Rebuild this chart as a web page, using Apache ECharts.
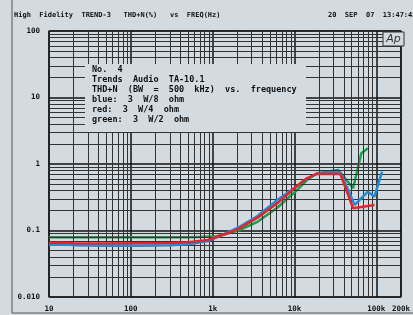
<!DOCTYPE html>
<html>
<head>
<meta charset="utf-8">
<script src="https://cdn.jsdelivr.net/npm/echarts@6/dist/echarts.min.js"></script>
<style>
html,body{margin:0;padding:0;background:#d3dbe1;}
#chart{width:413px;height:315px;}
</style>
</head>
<body>
<div id="chart"></div>
<script>
// THD+N (%) vs frequency (Hz)
var blueData = [[10,0.061],[18,0.061],[20,0.060],[50,0.059],[126,0.059],[300,0.060],[505,0.062],[880,0.0695],
	[1535,0.094],[2030,0.110],[3535,0.165],[6160,0.288],[10750,0.467],[14200,0.61],[18750,0.708],[24800,0.74],
	[34300,0.75],[37000,0.72],[54400,0.242],[78900,0.383],[94800,0.322],[117500,0.766]];
var redData = [[10,0.0656],[18,0.0656],[20,0.064],[50,0.0635],[126,0.0643],[300,0.065],[505,0.0665],[880,0.072],
	[1535,0.0908],[2030,0.104],[3535,0.156],[6160,0.256],[10750,0.467],[14200,0.61],[18750,0.708],[24800,0.708],
	[34300,0.708],[36500,0.70],[52000,0.216],[68700,0.228],[94800,0.242]];
var greenData = [[10,0.079],[126,0.079],[505,0.079],[1070,0.081],[1535,0.0908],[2030,0.099],[3535,0.135],
	[6160,0.22],[10750,0.406],[14200,0.574],[18750,0.725],[24800,0.766],[34300,0.812],[52000,0.432],
	[65500,1.45],[78900,1.72]];
var titleLeft = 'High  Fidelity  TREND-3   THD+N(%)   vs  FREQ(Hz)';
var titleRight = '20  SEP  07  13:47:45';
var noteLines = ['No.  4','Trends  Audio  TA-10.1','THD+N  (BW  =  500  kHz)  vs.  frequency',
	'blue:  3  W/8  ohm','red:  3  W/4  ohm','green:  3  W/2  ohm'];
var yLabels = {'100':'100','10':'10','1':'1','0.1':'0.1','0.01':'0.010'};

var bg = '#d3dbe1';
var font = 'DejaVu Sans Mono';

// minor grid positions (2..9 per decade)
var xMinor = [], yMinor = [];
[10,100,1000,10000,100000].forEach(function(d){
	for (var k = 2; k <= 9; k++) { if (d*k < 200000) xMinor.push({xAxis: d*k}); }
});
[0.01,0.1,1,10].forEach(function(d){
	for (var k = 2; k <= 9; k++) yMinor.push({yAxis: +(d*k).toPrecision(3)});
});

var myChart = echarts.init(document.getElementById('chart'));
var option = {
	backgroundColor: bg,
	animation: false,
	grid: {left: 49, right: 8, top: 31, bottom: 18, show: true, borderColor: '#111', borderWidth: 1.2},
	xAxis: {
		type: 'log', min: 10, max: 200000,
		axisLine: {show: false}, axisTick: {show: false},
		axisLabel: {
			margin: 8, color: '#111', fontFamily: font, fontWeight: 'bold', fontSize: 7.5,
			showMaxLabel: true,
			formatter: function (v) {
				v = Math.round(v);
				return v >= 1000 ? (v/1000) + 'k' : '' + v;
			}
		},
		splitLine: {show: true, lineStyle: {color: '#111', width: 1.5}}
	},
	yAxis: {
		type: 'log', min: 0.01, max: 100,
		axisLine: {show: false}, axisTick: {show: false},
		axisLabel: {
			margin: 9, color: '#111', fontFamily: font, fontWeight: 'bold', fontSize: 7.5,
			formatter: function (v) {
				var key = '' + (+v.toPrecision(3));
				return yLabels[key] || key;
			}
		},
		splitLine: {show: true, lineStyle: {color: '#111', width: 1.5}}
	},
	graphic: [
		{type: 'rect', z: 0, silent: true, shape: {x: 12, y: -2, width: 420, height: 315},
			style: {fill: 'none', stroke: '#555', lineWidth: 1}},
		{type: 'text', left: 14, top: 12, style: {text: titleLeft, font: 'bold 7px ' + font, fill: '#111'}},
		{type: 'text', left: 328, top: 12, style: {text: titleRight, font: 'bold 7px ' + font, fill: '#111'}},
		{type: 'rect', z: 50, shape: {x: 85, y: 64, width: 221, height: 68}, style: {fill: bg}},
		{type: 'text', z: 51, left: 92, top: 65,
			style: {text: noteLines.join('\n'), font: 'bold 8.5px ' + font, lineHeight: 10, fill: '#111'}},
		{type: 'rect', z: 50, shape: {x: 383, y: 32, width: 21, height: 14}, style: {fill: bg, stroke: '#333', lineWidth: 1}},
		{type: 'text', z: 51, x: 393.5, y: 39,
			style: {text: 'Ap', font: 'italic 11px DejaVu Sans', fill: '#333', align: 'center', verticalAlign: 'middle'}}
	],
	series: [
		{
			name: 'grid', type: 'line', data: [], z: 1, silent: true,
			markLine: {
				silent: true, symbol: 'none', animation: false,
				label: {show: false},
				lineStyle: {color: '#333', width: 1, type: 'solid'},
				data: xMinor.concat(yMinor)
			}
		},
		{name: 'blue', type: 'line', data: blueData, showSymbol: false, z: 5,
			lineStyle: {color: '#1f8bd8', width: 2.5}},
		{name: 'red', type: 'line', data: redData, showSymbol: false, z: 6,
			lineStyle: {color: '#e6222c', width: 2.5}},
		{name: 'green', type: 'line', data: greenData, showSymbol: false, z: 4,
			lineStyle: {color: '#1c9f4c', width: 2.5}}
	]
};
myChart.setOption(option);
</script>
</body>
</html>
